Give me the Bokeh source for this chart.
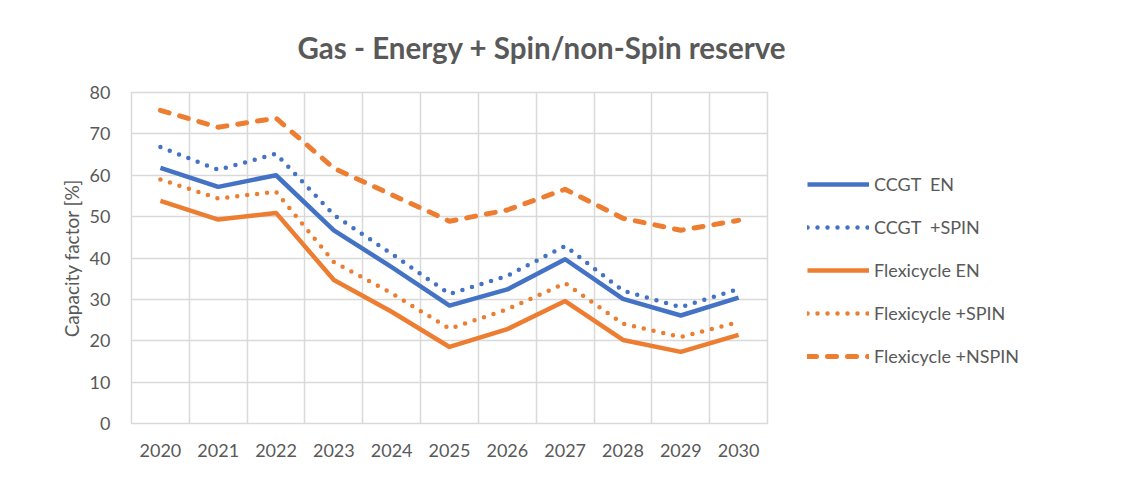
from bokeh.plotting import figure
from bokeh.models import Legend, LegendItem, FixedTicker, FactorRange, Range1d
from bokeh.layouts import row
from bokeh.embed import file_html
from bokeh.resources import INLINE

years = ["2020", "2021", "2022", "2023", "2024", "2025", "2026", "2027", "2028", "2029", "2030"]
ccgt_en = [61.8, 57.2, 60.0, 46.7, 37.8, 28.5, 32.4, 39.7, 30.1, 26.1, 30.4]
ccgt_spin = [66.8, 61.3, 65.2, 50.4, 41.0, 31.3, 35.7, 42.9, 32.1, 28.1, 32.5]
flex_en = [53.8, 49.3, 50.9, 34.7, 27.0, 18.5, 22.8, 29.6, 20.2, 17.3, 21.4]
flex_spin = [59.0, 54.4, 56.0, 39.0, 31.5, 22.9, 27.6, 33.9, 24.1, 20.9, 24.5]
flex_nspin = [75.7, 71.6, 73.8, 61.7, 55.3, 48.9, 51.6, 56.6, 49.6, 46.7, 49.1]

y_ticks = [0, 10, 20, 30, 40, 50, 60, 70, 80]

series = [
    ("CCGT  EN", ccgt_en, "blue", "solid"),
    ("CCGT  +SPIN", ccgt_spin, "blue", "dot"),
    ("Flexicycle EN", flex_en, "orange", "solid"),
    ("Flexicycle +SPIN", flex_spin, "orange", "dot"),
    ("Flexicycle +NSPIN", flex_nspin, "orange", "dash"),
]

COLORS = {"blue": "#4472C4", "orange": "#ED7D31"}
GRID = "#D9D9D9"
TEXT = "#595959"
FONT = "Lato"


def style(kind):
    if kind == "dot":
        return dict(line_width=4.5, line_dash="0 10", line_cap="round", line_join="round")
    if kind == "dash":
        return dict(line_width=5, line_dash="9 11", line_cap="round", line_join="round")
    return dict(line_width=4.5, line_join="round")


# main chart
p = figure(
    width=800, height=461,
    x_range=FactorRange(factors=years, range_padding=0, factor_padding=0),
    y_range=Range1d(0, 80),
    output_backend="svg", toolbar_location=None,
    min_border_left=131, min_border_right=33, min_border_top=92, min_border_bottom=38,
)

p.title.text = "Gas - Energy + Spin/non-Spin reserve"
p.title.text_font = FONT
p.title.text_font_size = "29.5px"
p.title.text_font_style = "bold"
p.title.text_color = TEXT
p.title.align = "left"
p.title.offset = 166
p.title.standoff = 55

p.outline_line_color = GRID
p.outline_line_width = 1.5

p.xgrid.ticker = FixedTicker(ticks=list(range(len(years) + 1)))
p.xgrid.grid_line_color = GRID
p.xgrid.grid_line_width = 1.5
p.ygrid.grid_line_color = GRID
p.ygrid.grid_line_width = 1.5

p.yaxis.ticker = FixedTicker(ticks=y_ticks)
for ax in (p.xaxis[0], p.yaxis[0]):
    ax.axis_line_color = None
    ax.major_tick_line_color = None
    ax.minor_tick_line_color = None
    ax.major_label_text_font = FONT
    ax.major_label_text_font_size = "18px"
    ax.major_label_text_color = TEXT
p.xaxis.major_label_standoff = 14
p.yaxis.major_label_standoff = 15

p.yaxis.axis_label = "Capacity factor [%]"
p.yaxis.axis_label_text_font = FONT
p.yaxis.axis_label_text_font_size = "19px"
p.yaxis.axis_label_text_font_style = "normal"
p.yaxis.axis_label_text_color = TEXT
p.yaxis.axis_label_standoff = 4

for label, vals, col, kind in series:
    p.line(years, vals, line_color=COLORS[col], **style(kind))

# legend panel (same series, ranges chosen so only the legend keys show)
q = figure(
    width=316, height=461,
    x_range=FactorRange(factors=years), y_range=Range1d(200, 300),
    output_backend="svg", toolbar_location=None,
    min_border_left=0, min_border_right=0, min_border_top=0, min_border_bottom=0,
)
q.axis.visible = False
q.grid.visible = False
q.outline_line_color = None

items = []
for label, vals, col, kind in series:
    r = q.line(years, vals, line_color=COLORS[col], **style(kind))
    items.append(LegendItem(label=label, renderers=[r]))

legend = Legend(
    items=items,
    location=(7, 56),
    orientation="vertical",
    padding=0, margin=0, spacing=21,
    glyph_width=62, glyph_height=20, label_height=20, label_standoff=5,
    label_text_font=FONT, label_text_font_size="18px", label_text_color=TEXT,
    border_line_color=None, background_fill_alpha=0,
)
q.add_layout(legend, "center")

layout = row(p, q)
open("out.html", "w").write(file_html(layout, INLINE))
